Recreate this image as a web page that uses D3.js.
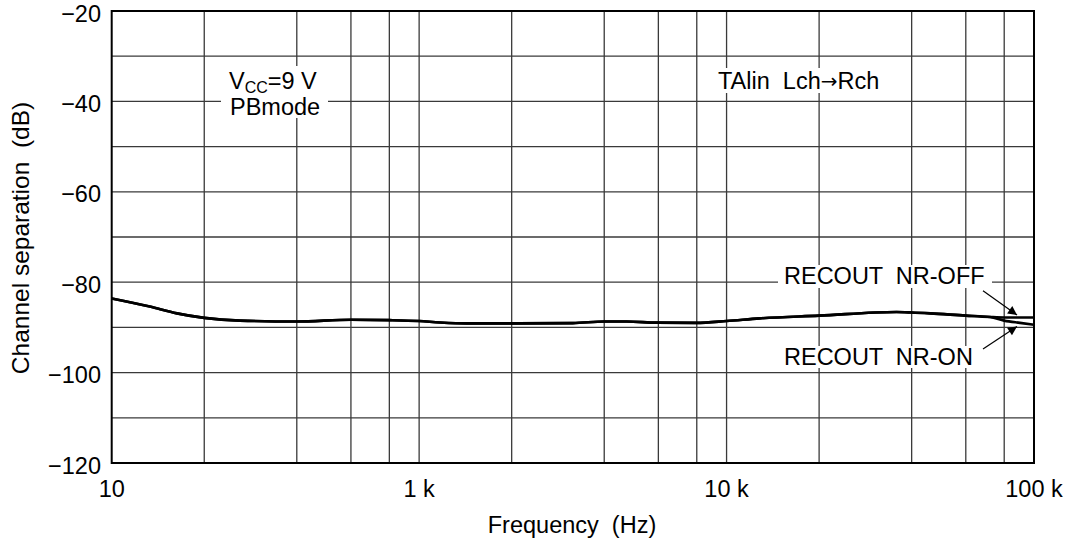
<!DOCTYPE html>
<html><head><meta charset="utf-8">
<script src="https://cdn.jsdelivr.net/npm/d3@7"></script>
<style>body{margin:0;background:#fff}svg{display:block}text{font-family:"Liberation Sans",Arial,sans-serif;fill:#000}</style>
</head><body><svg id="c" width="1079" height="545"></svg>
<script>
// x positions: leftmost decade labelled "10" in the original
const xTickValues = [100, 1000, 10000, 100000];
const xTickLabels = ["10", "1 k", "10 k", "100 k"];
const xGridMult = [2, 4, 6, 8];
const yTicks = [-20, -40, -60, -80, -100, -120];
const yGrid = [-30, -40, -50, -60, -70, -80, -90, -100, -110];

const freqCommon = [100, 133, 163, 200, 261, 400, 600, 800, 1000, 1170, 1430, 2000, 3160, 4000, 4730, 5930, 7950, 10000, 12800, 20000, 35700, 40000, 46000, 60000, 72000];
const dbCommon   = [-83.6, -85.4, -86.9, -87.9, -88.5, -88.7, -88.3, -88.4, -88.6, -88.9, -89.1, -89.1, -89.05, -88.7, -88.7, -88.95, -89.0, -88.6, -88.0, -87.4, -86.6, -86.7, -86.9, -87.4, -87.7];
const freqOff = [80000, 90000, 100000];
const dbOff   = [-87.8, -87.8, -87.8];
const freqOn  = [80000, 90000, 100000];
const dbOn    = [-88.5, -89.0, -89.4];

const svg = d3.select("#c");
const L = 111.7, R = 1034, T = 11, B = 463;
const x = d3.scaleLog().domain([100, 100000]).range([L, R]);
const y = d3.scaleLinear().domain([-120, -20]).range([B, T]);
const FS = 23.5;

// grid
const g = svg.append("g");
const vgrid = [];
[100, 1000, 10000].forEach(d => xGridMult.forEach(m => vgrid.push(d * m)));
[1000, 10000].forEach(d => vgrid.push(d));
g.selectAll("line.v").data(vgrid).join("line")
  .attr("x1", d => x(d)).attr("x2", d => x(d)).attr("y1", T).attr("y2", B)
  .attr("stroke", "#3a3a3a").attr("stroke-width", 1.3);
g.selectAll("line.h").data(yGrid).join("line")
  .attr("x1", L).attr("x2", R).attr("y1", d => y(d)).attr("y2", d => y(d))
  .attr("stroke", "#3a3a3a").attr("stroke-width", 1.3);

// white label backgrounds (interrupt grid)
const bg = svg.append("g").attr("fill", "#fff");
bg.append("rect").attr("x", 221).attr("y", 66).attr("width", 107).attr("height", 52);
bg.append("rect").attr("x", 714).attr("y", 68).attr("width", 192).attr("height", 25);
bg.append("rect").attr("x", 778).attr("y", 265).attr("width", 214).attr("height", 23);
bg.append("rect").attr("x", 778).attr("y", 346).attr("width", 200).attr("height", 22);

// frame
svg.append("rect").attr("x", L).attr("y", T).attr("width", R - L).attr("height", B - T)
  .attr("fill", "none").attr("stroke", "#000").attr("stroke-width", 2);

// curves
const line = d3.line().x(d => x(d[0])).y(d => y(d[1])).curve(d3.curveMonotoneX);
const common = freqCommon.map((f, i) => [f, dbCommon[i]]);
const off = common.concat(freqOff.map((f, i) => [f, dbOff[i]]));
const on = common.concat(freqOn.map((f, i) => [f, dbOn[i]]));
[off, on].forEach(d => svg.append("path").attr("d", line(d)).attr("fill", "none")
  .attr("stroke", "#000").attr("stroke-width", 2.6).attr("stroke-linejoin", "round"));

// axis tick labels
svg.append("g").selectAll("text").data(yTicks).join("text")
  .attr("x", 101).attr("y", d => y(d) + 10.5).attr("text-anchor", "end")
  .attr("font-size", FS).text(d => "\u2212" + Math.abs(d));
svg.append("g").selectAll("text").data(xTickValues).join("text")
  .attr("x", d => x(d)).attr("y", 497).attr("text-anchor", "middle")
  .attr("font-size", FS).text((d, i) => xTickLabels[i]);

// axis titles
svg.append("text").attr("x", 572).attr("y", 533).attr("text-anchor", "middle")
  .attr("font-size", FS).style("white-space", "pre").text("Frequency  (Hz)");
svg.append("text").attr("transform", "translate(29,238) rotate(-90)").attr("text-anchor", "middle")
  .attr("font-size", 24.5).style("white-space", "pre").text("Channel separation  (dB)");

// annotations
const t1 = svg.append("text").attr("x", 229).attr("y", 89).attr("font-size", FS);
t1.append("tspan").text("V");
t1.append("tspan").attr("font-size", 16).attr("dy", 4).text("CC");
t1.append("tspan").attr("dy", -4).text("=9 V");
svg.append("text").attr("x", 230).attr("y", 115).attr("font-size", FS).text("PBmode");
const t2 = svg.append("text").attr("x", 718).attr("y", 89).attr("font-size", FS).style("white-space", "pre");
t2.append("tspan").text("TAlin  Lch");
t2.append("tspan").style("font-family", "'DejaVu Sans'").attr("font-size", 20).attr("dy", -1).text("\u2192");
t2.append("tspan").attr("dy", 1).text("Rch");
svg.append("text").attr("x", 784).attr("y", 284).attr("font-size", FS).style("white-space", "pre").text("RECOUT  NR-OFF");
svg.append("text").attr("x", 784).attr("y", 365).attr("font-size", FS).style("white-space", "pre").text("RECOUT  NR-ON");

// leader arrows
const defs = svg.append("defs");
defs.append("marker").attr("id", "ah").attr("viewBox", "0 0 10 10").attr("refX", 10).attr("refY", 5)
  .attr("markerWidth", 13).attr("markerHeight", 9).attr("markerUnits", "userSpaceOnUse").attr("orient", "auto")
  .append("path").attr("d", "M0,0 L10,5 L0,10 Z").attr("fill", "#000");
const arrows = [[983, 290.7, 1017, 315], [983, 349, 1017, 326.5]];
svg.selectAll("line.ar").data(arrows).join("line")
  .attr("x1", d => d[0]).attr("y1", d => d[1]).attr("x2", d => d[2]).attr("y2", d => d[3])
  .attr("stroke", "#000").attr("stroke-width", 1.2).attr("marker-end", "url(#ah)");
</script></body></html>
